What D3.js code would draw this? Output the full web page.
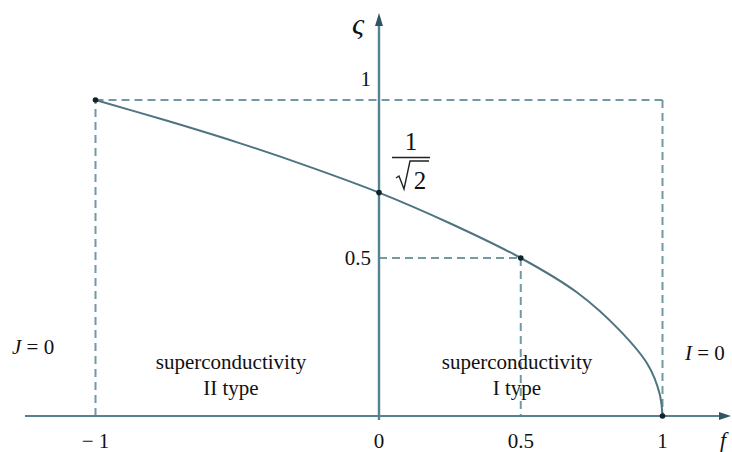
<!DOCTYPE html>
<html>
<head>
<meta charset="utf-8">
<script src="https://cdn.jsdelivr.net/npm/d3@7"></script>
<style>
  html, body { margin: 0; padding: 0; background: #fff; }
  svg { display: block; }
  text { font-family: "Liberation Serif", "DejaVu Serif", serif; fill: #111; }
</style>
</head>
<body>
<svg id="chart" width="732" height="452"></svg>
<script>
// Phase boundary ς(f) between type I and type II superconductivity
const fValues = [-1, -0.75, -0.5, -0.25, 0, 0.25, 0.5, 0.7, 0.85, 0.95, 0.99, 1];
const sigmaValues = [1, 0.935, 0.866, 0.79, 0.707, 0.61, 0.5, 0.39, 0.27, 0.16, 0.07, 0];

// Marked points on the curve
const markedF = [-1, 0, 0.5, 1];
const markedSigma = [1, 0.707, 0.5, 0];

// Axis tick labels
const xTicks = [-1, 0, 0.5, 1];
const xTickLabels = ["\u2212 1", "0", "0.5", "1"];
const yTicks = [0.5, 1];
const yTickLabels = ["0.5", "1"];

const svg = d3.select("#chart");
const x = d3.scaleLinear().domain([0, 1]).range([379, 662.5]);
const y = d3.scaleLinear().domain([0, 1]).range([416, 100]);

const axisColor = "#55828e";
const dashColor = "#6f9aa6";
const curveColor = "#4e7480";
const fs = 21;

// Dashed guide lines
const guides = [
  [[-1, 0], [-1, 1]],
  [[-1, 1], [1, 1]],
  [[1, 1], [1, 0]],
  [[0, 0.5], [0.5, 0.5]],
  [[0.5, 0.5], [0.5, 0]]
];
svg.append("g").selectAll("line").data(guides).join("line")
  .attr("x1", d => x(d[0][0])).attr("y1", d => y(d[0][1]))
  .attr("x2", d => x(d[1][0])).attr("y2", d => y(d[1][1]))
  .attr("stroke", dashColor).attr("stroke-width", 2)
  .attr("stroke-dasharray", "8,5");

// Axes with arrowheads
const axes = svg.append("g");
axes.append("line")
  .attr("x1", 25).attr("y1", y(0)).attr("x2", 722).attr("y2", y(0))
  .attr("stroke", axisColor).attr("stroke-width", 2.2);
axes.append("path")
  .attr("d", `M731,${y(0)} L719,${y(0) - 4} L719,${y(0) + 4} Z`)
  .attr("fill", "#2f5560");
axes.append("line")
  .attr("x1", x(0)).attr("y1", 420).attr("x2", x(0)).attr("y2", 22)
  .attr("stroke", axisColor).attr("stroke-width", 2.4);
axes.append("path")
  .attr("d", `M${x(0)},13 L${x(0) - 4},26 L${x(0) + 4},26 Z`)
  .attr("fill", "#2f5560");

// Boundary curve
const pts = fValues.map((f, i) => [f, sigmaValues[i]]);
svg.append("path")
  .datum(pts)
  .attr("fill", "none")
  .attr("stroke", curveColor)
  .attr("stroke-width", 2)
  .attr("d", d3.line().x(d => x(d[0])).y(d => y(d[1])).curve(d3.curveCatmullRom.alpha(0.5)));

// Marked points
svg.append("g").selectAll("circle").data(markedF.map((f, i) => [f, markedSigma[i]])).join("circle")
  .attr("cx", d => x(d[0])).attr("cy", d => y(d[1])).attr("r", 2.8)
  .attr("fill", "#10222a");

// X tick labels
svg.append("g").selectAll("text").data(xTicks).join("text")
  .attr("x", d => x(d)).attr("y", 448)
  .attr("text-anchor", "middle").attr("font-size", fs)
  .text((d, i) => xTickLabels[i]);

// Y tick labels
svg.append("g").selectAll("text").data(yTicks).join("text")
  .attr("x", x(0) - 8)
  .attr("y", d => d === 1 ? y(d) - 14 : y(d) + 7)
  .attr("text-anchor", "end").attr("font-size", fs)
  .text((d, i) => yTickLabels[i]);

// Axis titles
svg.append("text").attr("x", 723).attr("y", 447).attr("font-size", 22)
  .attr("font-style", "italic").attr("text-anchor", "middle").text("f");
svg.append("text").attr("x", 358).attr("y", 34).attr("font-size", 30)
  .attr("font-style", "italic").attr("text-anchor", "middle").text("\u03C2");

// 1/√2 annotation
const frac = svg.append("g").attr("transform", `translate(${x(0) + 32},0)`);
frac.append("text").attr("x", 0).attr("y", 150).attr("text-anchor", "middle")
  .attr("font-size", 25).text("1");
frac.append("line").attr("x1", -19).attr("x2", 19).attr("y1", 157.5).attr("y2", 157.5)
  .attr("stroke", "#222").attr("stroke-width", 1.4);
frac.append("path")
  .attr("d", "M-15,178 L-12,176 L-7,189 L-1,161 L18,161")
  .attr("fill", "none").attr("stroke", "#222").attr("stroke-width", 1.4)
  .attr("stroke-linejoin", "miter");
frac.append("text").attr("x", 9).attr("y", 189).attr("text-anchor", "middle")
  .attr("font-size", 25).text("2");

// Region labels
const regions = [
  { cx: 231, lines: ["superconductivity", "II type"] },
  { cx: 517, lines: ["superconductivity", "I type"] }
];
regions.forEach(r => {
  r.lines.forEach((t, i) => {
    svg.append("text").attr("x", r.cx).attr("y", 369 + i * 26)
      .attr("text-anchor", "middle").attr("font-size", fs).text(t);
  });
});

// Boundary condition labels
const jLabel = svg.append("text").attr("x", 12).attr("y", 354).attr("font-size", fs);
jLabel.append("tspan").attr("font-style", "italic").text("J");
jLabel.append("tspan").text(" = 0");
const iLabel = svg.append("text").attr("x", 685).attr("y", 360).attr("font-size", fs);
iLabel.append("tspan").attr("font-style", "italic").text("I");
iLabel.append("tspan").text(" = 0");
</script>
</body>
</html>
